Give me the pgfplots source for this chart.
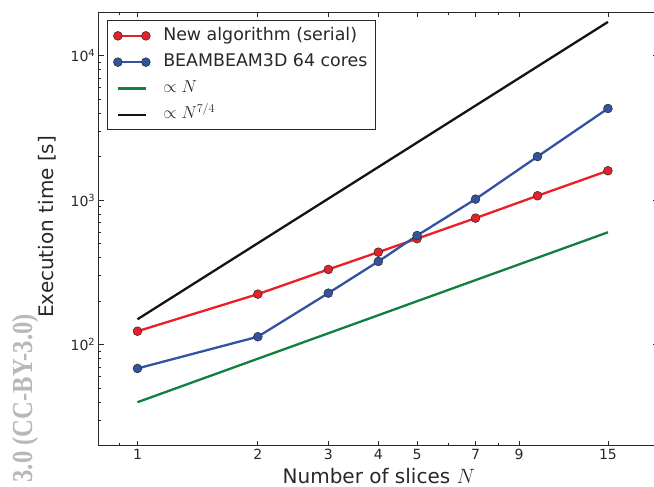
\documentclass[border=0pt]{standalone}
\usepackage{pgfplots}
\pgfplotsset{compat=1.18}
\usepackage{fontspec}
\setmainfont{DejaVu Sans}
\newfontfamily\wmfont[FakeStretch=0.85]{Liberation Serif}
\definecolor{cred}{RGB}{234,32,40}
\definecolor{cblue}{RGB}{50,82,162}
\definecolor{cgreen}{RGB}{16,128,62}
\definecolor{spine}{RGB}{40,40,40}
\begin{document}
\begin{tikzpicture}[x=1pt,y=1pt]
\useasboundingbox (0,0) rectangle (654,487);
\clip (0,0) rectangle (654,487);
\node[rotate=90, anchor=base east, text=black!28, font=\wmfont\bfseries\fontsize{29}{29}\selectfont, inner sep=0pt] at (32,173) {3.0 (CC-BY-3.0)};
\begin{axis}[
  at={(98.7pt,41.3pt)}, anchor=south west,
  scale only axis, width=559.2pt, height=433.4pt,
  xmode=log, ymode=log,
  xmin=0.8, xmax=20, ymin=20, ymax=20000,
  xtick={1,2,3,4,5,7,9,15}, xticklabels={1,2,3,4,5,7,9,15},
  minor xtick={0.9,6,8},
  ytick={100,1000,10000},
  yticklabels={10\textsuperscript{2},10\textsuperscript{3},10\textsuperscript{4}},
  minor ytick={20,30,40,50,60,70,80,90,200,300,400,500,600,700,800,900,2000,3000,4000,5000,6000,7000,8000,9000},
  tick align=inside,
  major tick length=5pt, minor tick length=2.5pt,
  every tick/.append style={spine, line width=0.8pt},
  axis line style={spine, line width=1.2pt},
  tick label style={font=\fontsize{14}{14}\selectfont, text=spine},
  xlabel={Number of slices $N$}, ylabel={Execution time [s]},
  label style={font=\fontsize{20}{20}\selectfont, text=spine},
  xlabel style={at={(axis description cs:0.501,-0.0868)}, anchor=base},
  ylabel style={at={(axis description cs:-0.0925,0.505)}, anchor=center},
  legend cell align=left,
  legend image code/.code={\draw[mark repeat=2,mark phase=1,#1] plot coordinates {(0pt,0pt) (14pt,0pt) (28pt,0pt)};},
  legend style={at={(axis description cs:0.0148,0.982)}, anchor=north west,
    draw=spine, line width=1pt, font=\fontsize{17.4}{17.4}\selectfont, text=spine,
    row sep=5.8pt, column sep=11pt, inner xsep=6pt, inner ysep=5pt,
    nodes={inner sep=2pt, text height=12.5pt, text depth=4pt}},
]
\addplot[cred, line width=2.3pt, mark=*, mark size=4.4pt, mark options={fill=cred, draw=black!80, line width=0.6pt}]
  coordinates {(1,124) (2,224) (3,332) (4,437) (5,542) (7,752) (10,1074) (15,1600)};
\addlegendentry{New algorithm (serial)}
\addplot[cblue, line width=2.3pt, mark=*, mark size=4.4pt, mark options={fill=cblue, draw=black!80, line width=0.6pt}]
  coordinates {(1,68.5) (2,113.6) (3,227.5) (4,377) (5,570) (7,1018) (10,2006) (15,4315)};
\addlegendentry{BEAMBEAM3D 64 cores}
\addplot[cgreen, line width=2.3pt, mark=none] coordinates {(1,40) (15,600)};
\addlegendentry{$\propto N$}
\addplot[black!92, line width=2.3pt, mark=none] coordinates {(1,150) (15,17150)};
\addlegendentry{$\propto N^{7/4}$}
\end{axis}
\end{tikzpicture}
\end{document}
